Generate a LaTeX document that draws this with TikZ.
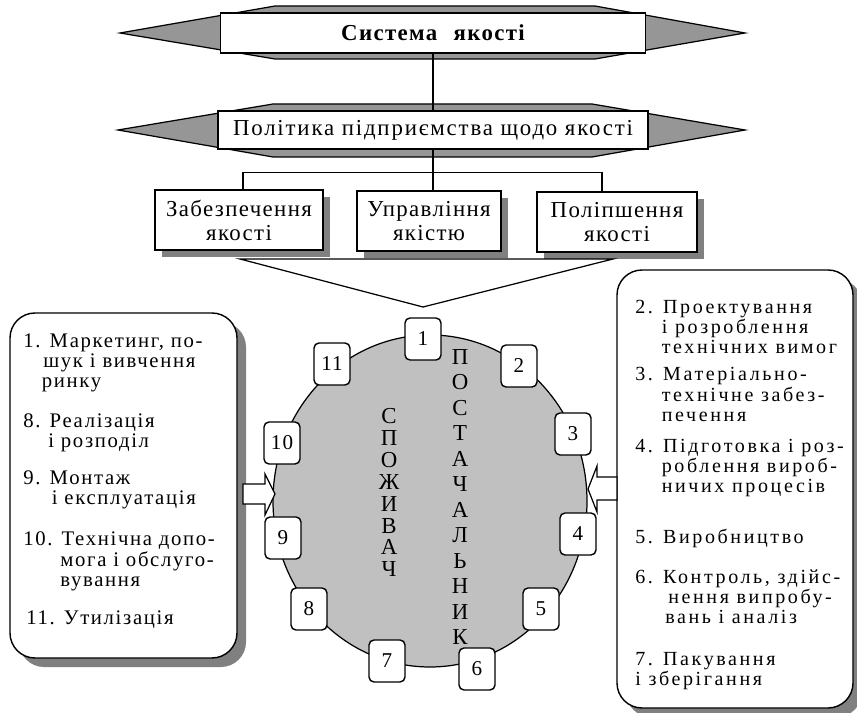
\documentclass[tikz,border=0pt]{standalone}
\usepackage{fontspec}
\setmainfont{Liberation Serif}[LetterSpace=5]
\newfontfamily\fBox{Liberation Serif}[LetterSpace=6]
\newfontfamily\fPol{Liberation Serif}[LetterSpace=8]
\newfontfamily\fLeft{Liberation Serif}[LetterSpace=8]
\newfontfamily\fRight{Liberation Serif}[LetterSpace=13]
\usetikzlibrary{shadows,calc}
\definecolor{bandgray}{HTML}{969696}
\definecolor{ringgray}{HTML}{C0C0C0}
\definecolor{shadegray}{HTML}{808080}
\newcommand\fsBox{\fBox\fontsize{13}{13.7}\selectfont}
\newcommand\fsLeft{\fLeft\fontsize{11.8}{11.6}\selectfont}
\newcommand\fsRight{\fRight\fontsize{11.4}{11.4}\selectfont}
\newcommand\fsNum{\fontsize{12}{12}\selectfont}
\tikzset{
  conn/.style={line width=0.7pt},
  band/.style={draw, line width=0.7pt, fill=bandgray},
  bandtxt/.style={draw, fill=white, line width=0.7pt, inner sep=0pt, minimum height=#1, font=\fsBox},
  qbox/.style={draw, fill=white, line width=0.7pt, align=center, minimum height=12mm, inner sep=0pt,
               font=\fsBox, drop shadow={shadow xshift=1.4mm, shadow yshift=-1.4mm, fill=shadegray, opacity=1}},
  bigbox/.style={draw, fill=white, line width=0.8pt, rounded corners=5mm,
                 drop shadow={shadow xshift=1.8mm, shadow yshift=-1.8mm, fill=shadegray, opacity=1}},
  numbox/.style={draw, fill=white, line width=0.8pt, rounded corners=1mm, minimum width=7.2mm,
                 minimum height=8.4mm, inner sep=0pt, font=\fsNum},
  itemL/.style={anchor=west, align=left, inner sep=0pt, font=\fsLeft},
  itemR/.style={anchor=west, align=left, inner sep=0pt, font=\fsRight},
  blockarr/.style={draw, fill=white, line width=0.7pt, line join=miter},
}

\begin{document}
\begin{tikzpicture}[x=0.2mm, y=-0.2mm]
\clip (0,0) rectangle (857,713);

% the two banners
\filldraw[band] (120,33) -- (275,6) -- (595,6) -- (745,33) -- (595,59) -- (275,59) -- cycle;
\node[bandtxt=8mm, minimum width=85mm] (sys) at (433,33) {\bfseries Система\hspace{0.4em} якості};
\filldraw[band] (118,130) -- (273,104) -- (592,104) -- (745,130) -- (592,157) -- (273,157) -- cycle;
\node[bandtxt=7.6mm, minimum width=86mm] (pol) at (433,130) {\fPol Політика підприємства щодо якості};
\draw[conn] (sys.south) -- (pol.north);

% three boxes
\node[qbox, minimum width=33.6mm] (kb1) at (239,220) {Забезпечення\\якості};
\node[qbox, minimum width=28.8mm] (kb2) at (429,221) {Управління\\якістю};
\node[qbox, minimum width=32mm] (kb3) at (617,222) {Поліпшення\\якості};
\coordinate (fork) at ($(pol.south)+(0,23)$);
\draw[conn] (pol.south) -- (pol.south |- kb2.north);
\draw[conn] ([xshift=0.8mm]kb1.north) |- (fork) -| ([xshift=-3mm]kb3.north);
\draw[conn] (240,259) -- (613,259) -- (423,307) -- cycle;

% side boxes
\node[bigbox, minimum width=45.4mm, minimum height=69mm] (cons) at (123.5,485.5) {};
\node[bigbox, minimum width=47.2mm, minimum height=87.6mm] (supp) at (735,489) {};

% ring
\filldraw[fill=ringgray, line width=0.7pt] (430,501) ellipse [x radius=31.4mm, y radius=33.2mm];
\draw[blockarr] (243,484) -- (265,484) -- (265,474) -- (275,494) -- (265,515) -- (265,504) -- (243,504) -- cycle;
\draw[blockarr] (617,477) -- (597,477) -- (597,466) -- (588,489) -- (597,512) -- (597,500) -- (617,500) -- cycle;

\node[align=center, inner sep=0pt, font=\fontsize{13}{12.5}\selectfont] (spoz) at (389,492.5) {С\\П\\О\\Ж\\И\\В\\А\\Ч};
\node[align=center, inner sep=0pt, font=\fontsize{13}{14.5}\selectfont] (post) at (460,497) {П\\О\\С\\Т\\А\\Ч\\А\\Л\\Ь\\Н\\И\\К};

\node[numbox] (n1) at (423,339) {1};
\node[numbox] (n2) at (519,366) {2};
\node[numbox] (n3) at (573,434) {3};
\node[numbox] (n4) at (578,534) {4};
\node[numbox] (n5) at (541,609) {5};
\node[numbox] (n6) at (477,669) {6};
\node[numbox] (n7) at (387,661) {7};
\node[numbox] (n8) at (309,609) {8};
\node[numbox] (n9) at (283,538) {9};
\node[numbox] (n10) at (282,443) {10};
\node[numbox] (n11) at (332,364) {11};

% consumer side
\node[itemL] (l1) at (23,363) {1. Маркетинг, по-\\\hspace*{4mm}шук і вивчення\\\hspace*{3.7mm}ринку};
\node[itemL] (l8) at (23,433) {8. Реалізація\\\hspace*{5mm}і розподіл};
\node[itemL] (l9) at (23,490) {9. Монтаж\\\hspace*{5.7mm}і експлуатація};
\node[itemL] (l10) at (23,561.5) {10. Технічна допо-\\\hspace*{7.4mm}мога і обслуго-\\\hspace*{7.4mm}вування};
\node[itemL] (l11) at (26,620) {11. Утилізація};

% supplier side
\node[itemR] (r2) at (635,327) {2. Проектування\\\hspace*{5.3mm}і розроблення\\\hspace*{5.3mm}технічних вимог};
\node[itemR] (r3) at (635,394.5) {3. Матеріально-\\\hspace*{5.3mm}технічне забез-\\\hspace*{5.3mm}печення};
\node[itemR] (r4) at (635,468) {4. Підготовка і роз-\\\hspace*{5.3mm}роблення вироб-\\\hspace*{5.3mm}ничих процесів};
\node[itemR] (r5) at (635,538) {5. Виробництво};
\node[itemR] (r6) at (635,596.5) {6. Контроль, здійс-\\\hspace*{6.6mm}нення випробу-\\\hspace*{6mm}вань і аналіз};
\node[itemR] (r7) at (635,671.5) {7. Пакування\\і зберігання};
\end{tikzpicture}
\end{document}
